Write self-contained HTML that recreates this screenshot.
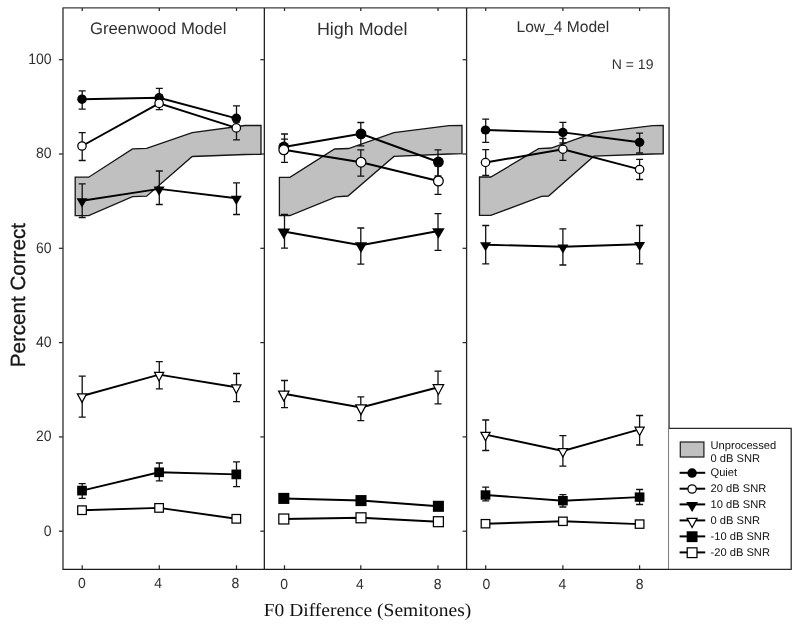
<!DOCTYPE html>
<html lang="en"><head><meta charset="utf-8"><title>F0 Difference - Percent Correct</title>
<style>html,body{margin:0;padding:0;background:#fff}body{width:800px;height:627px;overflow:hidden}svg{display:block}.tb{filter:blur(0.4px)}text{text-rendering:geometricPrecision;font-family:"Liberation Sans",Arial,Helvetica,sans-serif;fill:#303030}.lg text{fill:#111}.ser{font-family:"Liberation Serif","Times New Roman",serif;fill:#111}</style></head><body>
<svg width="800" height="627" viewBox="0 0 800 627">
<rect x="0" y="0" width="800" height="627" fill="#fff"/>
<polygon points="75.2,177.2 88.7,177.2 132.5,148.9 146.6,148.4 192.2,132.7 245.0,125.5 261.0,125.5 261.0,154.3 245.0,154.5 192.2,156.5 146.6,196.2 132.5,196.7 88.7,215.6 75.2,215.6" fill="#c0c0c0" stroke="#151515" stroke-width="1.3"/>
<polygon points="279.4,177.3 289.9,177.3 334.6,149.0 348.6,148.5 393.9,132.7 449.0,125.6 462.0,125.4 462.0,153.7 449.0,154.0 393.9,156.4 348.0,196.0 336.0,196.8 289.9,215.5 279.4,215.5" fill="#c0c0c0" stroke="#151515" stroke-width="1.3"/>
<polygon points="479.5,177.0 490.8,177.0 538.6,148.7 551.1,148.0 593.6,132.9 652.6,125.6 663.2,125.4 663.2,153.9 652.0,154.0 593.8,156.2 548.6,196.0 541.6,196.3 490.8,215.4 479.5,215.4" fill="#c0c0c0" stroke="#151515" stroke-width="1.3"/>
<g fill="none">
<path d="M62.4 7.9H669.9" stroke="#3c3c3c" stroke-width="1.4"/>
<path d="M62.4 569.3H669.3" stroke="#1c1c1c" stroke-width="1.3"/>
<path d="M63.0 7.9V569.3M669.05 7.9V569.3" stroke="#444" stroke-width="1.45"/>
<path d="M264.35 7.9V569.3M466.6 7.9V569.3" stroke="#222" stroke-width="1.3"/>
</g>
<g stroke="#2a2a2a" stroke-width="1.25" fill="none">
<path d="M58.9 531.2H63.0"/>
<path d="M58.9 436.9H63.0"/>
<path d="M58.9 342.6H63.0"/>
<path d="M58.9 248.3H63.0"/>
<path d="M58.9 154.0H63.0"/>
<path d="M58.9 59.7H63.0"/>
<path d="M260.3 531.2H264.4"/>
<path d="M260.3 436.9H264.4"/>
<path d="M260.3 342.6H264.4"/>
<path d="M260.3 248.3H264.4"/>
<path d="M260.3 154.0H264.4"/>
<path d="M260.3 59.7H264.4"/>
<path d="M462.6 531.2H466.7"/>
<path d="M462.6 436.9H466.7"/>
<path d="M462.6 342.6H466.7"/>
<path d="M462.6 248.3H466.7"/>
<path d="M462.6 154.0H466.7"/>
<path d="M462.6 59.7H466.7"/>
</g>
<g stroke="#2a2a2a" stroke-width="1.25" fill="none">
<path d="M82.2 7.9v3M82.2 569.3v-4"/>
<path d="M159.3 7.9v3M159.3 569.3v-4"/>
<path d="M236.5 7.9v3M236.5 569.3v-4"/>
<path d="M284.5 7.9v3M284.5 569.3v-4"/>
<path d="M360.8 7.9v3M360.8 569.3v-4"/>
<path d="M438.0 7.9v3M438.0 569.3v-4"/>
<path d="M485.7 7.9v3M485.7 569.3v-4"/>
<path d="M562.9 7.9v3M562.9 569.3v-4"/>
<path d="M639.6 7.9v3M639.6 569.3v-4"/>
</g>
<g>
<path d="M82.2 90.8V109.2M78.7 90.8h7M78.7 109.2h7M159.3 88.4V106M155.8 88.4h7M155.8 106h7M236.5 105.9V127.5M233.0 105.9h7M233.0 127.5h7" stroke="#111" stroke-width="1.3" fill="none"/>
<polyline points="82.0,99.2 159.1,97.8 236.3,118.3" fill="none" stroke="#000" stroke-width="1.9"/>
<ellipse cx="82.0" cy="99.2" rx="4.75" ry="4.75" fill="#000"/>
<ellipse cx="159.1" cy="97.8" rx="4.75" ry="4.75" fill="#000"/>
<ellipse cx="236.3" cy="118.3" rx="4.75" ry="4.75" fill="#000"/>
</g>
<g>
<path d="M82.2 132.6V160.5M78.7 132.6h7M78.7 160.5h7M159.3 95V109.6M155.8 95h7M155.8 109.6h7M236.5 122V139.9M233.0 122h7M233.0 139.9h7" stroke="#111" stroke-width="1.3" fill="none"/>
<polyline points="82.0,146.0 159.1,103.4 236.3,127.9" fill="none" stroke="#000" stroke-width="1.9"/>
<ellipse cx="82.0" cy="146.0" rx="4.20" ry="4.20" fill="#fff" stroke="#000" stroke-width="1.25"/>
<ellipse cx="159.1" cy="103.4" rx="4.20" ry="4.20" fill="#fff" stroke="#000" stroke-width="1.25"/>
<ellipse cx="236.3" cy="127.9" rx="4.20" ry="4.20" fill="#fff" stroke="#000" stroke-width="1.25"/>
</g>
<g>
<path d="M82.2 183.8V217.5M78.7 183.8h7M78.7 217.5h7M159.3 171V204.5M155.8 171h7M155.8 204.5h7M236.5 182.9V214.5M233.0 182.9h7M233.0 214.5h7" stroke="#111" stroke-width="1.3" fill="none"/>
<polyline points="82.0,200.7 159.1,188.9 236.3,198.2" fill="none" stroke="#000" stroke-width="1.9"/>
<path d="M76.50 198.20H87.50L82.0 207.50Z" fill="#000"/>
<path d="M153.60 186.40H164.60L159.1 195.70Z" fill="#000"/>
<path d="M230.80 195.70H241.80L236.3 205.00Z" fill="#000"/>
</g>
<g>
<path d="M82.2 376.1V417.2M78.7 376.1h7M78.7 417.2h7M159.3 361.7V388.8M155.8 361.7h7M155.8 388.8h7M236.5 373.5V401.6M233.0 373.5h7M233.0 401.6h7" stroke="#111" stroke-width="1.3" fill="none"/>
<polyline points="82.0,396.0 159.1,374.6 236.3,387.2" fill="none" stroke="#000" stroke-width="1.9"/>
<path d="M77.42 393.75H86.58L82.0 402.33Z" fill="#fff" stroke="#000" stroke-width="1.25" stroke-linejoin="miter"/>
<path d="M154.52 372.35H163.68L159.1 380.93Z" fill="#fff" stroke="#000" stroke-width="1.25" stroke-linejoin="miter"/>
<path d="M231.72 384.95H240.88L236.3 393.53Z" fill="#fff" stroke="#000" stroke-width="1.25" stroke-linejoin="miter"/>
</g>
<g>
<path d="M82.2 483.6V498.3M78.7 483.6h7M78.7 498.3h7M159.3 463V480.9M155.8 463h7M155.8 480.9h7M236.5 461.9V486.7M233.0 461.9h7M233.0 486.7h7" stroke="#111" stroke-width="1.3" fill="none"/>
<polyline points="82.0,490.6 159.1,472.3 236.3,474.4" fill="none" stroke="#000" stroke-width="1.9"/>
<rect x="77.15" y="485.75" width="9.70" height="9.70" fill="#000"/>
<rect x="154.25" y="467.45" width="9.70" height="9.70" fill="#000"/>
<rect x="231.45" y="469.55" width="9.70" height="9.70" fill="#000"/>
</g>
<g>
<path d="M82.2 508V512M78.7 508h7M78.7 512h7M159.3 506V510M155.8 506h7M155.8 510h7M236.5 517V521M233.0 517h7M233.0 521h7" stroke="#111" stroke-width="1.3" fill="none"/>
<polyline points="82.0,510.2 159.1,507.9 236.3,518.8" fill="none" stroke="#000" stroke-width="1.9"/>
<rect x="77.70" y="505.90" width="8.60" height="8.60" fill="#fff" stroke="#000" stroke-width="1.25"/>
<rect x="154.80" y="503.60" width="8.60" height="8.60" fill="#fff" stroke="#000" stroke-width="1.25"/>
<rect x="232.00" y="514.50" width="8.60" height="8.60" fill="#fff" stroke="#000" stroke-width="1.25"/>
</g>
<g>
<path d="M284.5 134.0V153M281.0 134.0h7M281.0 153h7M360.8 122.5V145.9M357.3 122.5h7M357.3 145.9h7M438.0 149.8V176M434.5 149.8h7M434.5 176h7" stroke="#111" stroke-width="1.3" fill="none"/>
<polyline points="283.8,147.0 361.0,133.8 438.4,162.0" fill="none" stroke="#000" stroke-width="2.0"/>
<ellipse cx="283.8" cy="147.0" rx="5.41" ry="5.41" fill="#000"/>
<ellipse cx="361.0" cy="133.8" rx="5.41" ry="5.41" fill="#000"/>
<ellipse cx="438.4" cy="162.0" rx="5.41" ry="5.41" fill="#000"/>
</g>
<g>
<path d="M284.5 139.1V162.4M281.0 139.1h7M281.0 162.4h7M360.8 149.8V176.2M357.3 149.8h7M357.3 176.2h7M438.0 166V194.3M434.5 166h7M434.5 194.3h7" stroke="#111" stroke-width="1.3" fill="none"/>
<polyline points="283.8,149.8 361.0,162.2 438.4,181.0" fill="none" stroke="#000" stroke-width="2.0"/>
<ellipse cx="283.8" cy="149.8" rx="4.86" ry="4.86" fill="#fff" stroke="#000" stroke-width="1.25"/>
<ellipse cx="361.0" cy="162.2" rx="4.86" ry="4.86" fill="#fff" stroke="#000" stroke-width="1.25"/>
<ellipse cx="438.4" cy="181.0" rx="4.86" ry="4.86" fill="#fff" stroke="#000" stroke-width="1.25"/>
</g>
<g>
<path d="M284.5 214.3V248.1M281.0 214.3h7M281.0 248.1h7M360.8 228V264.2M357.3 228h7M357.3 264.2h7M438.0 213.6V250.4M434.5 213.6h7M434.5 250.4h7" stroke="#111" stroke-width="1.3" fill="none"/>
<polyline points="283.8,231.4 361.0,245.2 438.4,231.0" fill="none" stroke="#000" stroke-width="2.0"/>
<path d="M277.53 228.55H290.07L283.8 239.15Z" fill="#000"/>
<path d="M354.73 242.35H367.27L361.0 252.95Z" fill="#000"/>
<path d="M432.13 228.15H444.67L438.4 238.75Z" fill="#000"/>
</g>
<g>
<path d="M284.5 380.5V407.7M281.0 380.5h7M281.0 407.7h7M360.8 396.9V420.6M357.3 396.9h7M357.3 420.6h7M438.0 371.2V403.8M434.5 371.2h7M434.5 403.8h7" stroke="#111" stroke-width="1.3" fill="none"/>
<polyline points="283.8,393.7 361.0,407.4 438.4,387.3" fill="none" stroke="#000" stroke-width="2.0"/>
<path d="M278.58 391.13H289.02L283.8 400.92Z" fill="#fff" stroke="#000" stroke-width="1.25" stroke-linejoin="miter"/>
<path d="M355.78 404.83H366.22L361.0 414.62Z" fill="#fff" stroke="#000" stroke-width="1.25" stroke-linejoin="miter"/>
<path d="M433.18 384.74H443.62L438.4 394.52Z" fill="#fff" stroke="#000" stroke-width="1.25" stroke-linejoin="miter"/>
</g>
<g>
<path d="M284.5 496V501M281.0 496h7M281.0 501h7M360.8 498V503M357.3 498h7M357.3 503h7M438.0 503V509M434.5 503h7M434.5 509h7" stroke="#111" stroke-width="1.3" fill="none"/>
<polyline points="283.8,498.4 361.0,500.6 438.4,506.3" fill="none" stroke="#000" stroke-width="2.0"/>
<rect x="278.27" y="492.87" width="11.06" height="11.06" fill="#000"/>
<rect x="355.47" y="495.07" width="11.06" height="11.06" fill="#000"/>
<rect x="432.87" y="500.77" width="11.06" height="11.06" fill="#000"/>
</g>
<g>
<path d="M284.5 517V521M281.0 517h7M281.0 521h7M360.8 516V520M357.3 516h7M357.3 520h7M438.0 520V524M434.5 520h7M434.5 524h7" stroke="#111" stroke-width="1.3" fill="none"/>
<polyline points="283.8,519.0 361.0,517.8 438.4,521.7" fill="none" stroke="#000" stroke-width="2.0"/>
<rect x="278.82" y="514.02" width="9.96" height="9.96" fill="#fff" stroke="#000" stroke-width="1.25"/>
<rect x="356.02" y="512.82" width="9.96" height="9.96" fill="#fff" stroke="#000" stroke-width="1.25"/>
<rect x="433.42" y="516.72" width="9.96" height="9.96" fill="#fff" stroke="#000" stroke-width="1.25"/>
</g>
<g>
<path d="M485.7 119.2V142.4M482.2 119.2h7M482.2 142.4h7M562.9 122.3V143M559.4 122.3h7M559.4 143h7M639.6 133.1V153.0M636.1 133.1h7M636.1 153.0h7" stroke="#111" stroke-width="1.3" fill="none"/>
<polyline points="485.5,130.0 562.9,132.4 639.6,142.3" fill="none" stroke="#000" stroke-width="1.9"/>
<ellipse cx="485.5" cy="130.0" rx="4.75" ry="4.61" fill="#000"/>
<ellipse cx="562.9" cy="132.4" rx="4.75" ry="4.61" fill="#000"/>
<ellipse cx="639.6" cy="142.3" rx="4.75" ry="4.61" fill="#000"/>
</g>
<g>
<path d="M485.7 149.7V175.4M482.2 149.7h7M482.2 175.4h7M562.9 138.5V160.3M559.4 138.5h7M559.4 160.3h7M639.6 159.3V179.5M636.1 159.3h7M636.1 179.5h7" stroke="#111" stroke-width="1.3" fill="none"/>
<polyline points="485.5,162.5 562.9,149.3 639.6,169.4" fill="none" stroke="#000" stroke-width="1.9"/>
<ellipse cx="485.5" cy="162.5" rx="4.20" ry="4.06" fill="#fff" stroke="#000" stroke-width="1.25"/>
<ellipse cx="562.9" cy="149.3" rx="4.20" ry="4.06" fill="#fff" stroke="#000" stroke-width="1.25"/>
<ellipse cx="639.6" cy="169.4" rx="4.20" ry="4.06" fill="#fff" stroke="#000" stroke-width="1.25"/>
</g>
<g>
<path d="M485.7 225.5V263.8M482.2 225.5h7M482.2 263.8h7M562.9 228.8V265M559.4 228.8h7M559.4 265h7M639.6 225.5V263.8M636.1 225.5h7M636.1 263.8h7" stroke="#111" stroke-width="1.3" fill="none"/>
<polyline points="485.5,244.7 562.9,246.8 639.6,244.3" fill="none" stroke="#000" stroke-width="1.9"/>
<path d="M480.00 242.27H491.00L485.5 251.30Z" fill="#000"/>
<path d="M557.40 244.38H568.40L562.9 253.40Z" fill="#000"/>
<path d="M634.10 241.88H645.10L639.6 250.90Z" fill="#000"/>
</g>
<g>
<path d="M485.7 420V450.5M482.2 420h7M482.2 450.5h7M562.9 435.6V466.2M559.4 435.6h7M559.4 466.2h7M639.6 415.5V445M636.1 415.5h7M636.1 445h7" stroke="#111" stroke-width="1.3" fill="none"/>
<polyline points="485.5,434.6 562.9,450.9 639.6,429.4" fill="none" stroke="#000" stroke-width="1.9"/>
<path d="M480.92 432.42H490.08L485.5 440.74Z" fill="#fff" stroke="#000" stroke-width="1.25" stroke-linejoin="miter"/>
<path d="M558.32 448.72H567.48L562.9 457.04Z" fill="#fff" stroke="#000" stroke-width="1.25" stroke-linejoin="miter"/>
<path d="M635.02 427.22H644.18L639.6 435.54Z" fill="#fff" stroke="#000" stroke-width="1.25" stroke-linejoin="miter"/>
</g>
<g>
<path d="M485.7 487.1V500.8M482.2 487.1h7M482.2 500.8h7M562.9 494.6V507M559.4 494.6h7M559.4 507h7M639.6 489.5V504.5M636.1 489.5h7M636.1 504.5h7" stroke="#111" stroke-width="1.3" fill="none"/>
<polyline points="485.5,495.0 562.9,500.7 639.6,497.1" fill="none" stroke="#000" stroke-width="1.9"/>
<rect x="480.65" y="490.30" width="9.70" height="9.41" fill="#000"/>
<rect x="558.05" y="496.00" width="9.70" height="9.41" fill="#000"/>
<rect x="634.75" y="492.40" width="9.70" height="9.41" fill="#000"/>
</g>
<g>
<path d="M485.7 522V526M482.2 522h7M482.2 526h7M562.9 520V523M559.4 520h7M559.4 523h7M639.6 522V526M636.1 522h7M636.1 526h7" stroke="#111" stroke-width="1.3" fill="none"/>
<polyline points="485.5,523.7 562.9,521.3 639.6,524.1" fill="none" stroke="#000" stroke-width="1.9"/>
<rect x="481.20" y="519.55" width="8.60" height="8.31" fill="#fff" stroke="#000" stroke-width="1.25"/>
<rect x="558.60" y="517.15" width="8.60" height="8.31" fill="#fff" stroke="#000" stroke-width="1.25"/>
<rect x="635.30" y="519.95" width="8.60" height="8.31" fill="#fff" stroke="#000" stroke-width="1.25"/>
</g>
<g class="tb">
<text transform="translate(51.5,535.5) scale(1,1.08)" font-size="14" text-anchor="end">0</text>
<text transform="translate(51.5,441.2) scale(1,1.08)" font-size="14" text-anchor="end">20</text>
<text transform="translate(51.5,346.9) scale(1,1.08)" font-size="14" text-anchor="end">40</text>
<text transform="translate(51.5,252.6) scale(1,1.08)" font-size="14" text-anchor="end">60</text>
<text transform="translate(51.5,158.3) scale(1,1.08)" font-size="14" text-anchor="end">80</text>
<text transform="translate(51.5,64.0) scale(1,1.08)" font-size="14" text-anchor="end">100</text>
<text transform="translate(81.9,587.8) scale(1,1.04)" font-size="14" text-anchor="middle">0</text>
<text transform="translate(158.2,587.8) scale(1,1.04)" font-size="14" text-anchor="middle">4</text>
<text transform="translate(235.5,587.8) scale(1,1.04)" font-size="14" text-anchor="middle">8</text>
<text transform="translate(284.1,588.9) scale(1,1.04)" font-size="14" text-anchor="middle">0</text>
<text transform="translate(360.0,588.9) scale(1,1.04)" font-size="14" text-anchor="middle">4</text>
<text transform="translate(437.6,588.9) scale(1,1.04)" font-size="14" text-anchor="middle">8</text>
<text transform="translate(486.4,588.7) scale(1,1.04)" font-size="14" text-anchor="middle">0</text>
<text transform="translate(562.3,588.7) scale(1,1.04)" font-size="14" text-anchor="middle">4</text>
<text transform="translate(639.7,588.7) scale(1,1.04)" font-size="14" text-anchor="middle">8</text>
<text x="90.0" y="33.6" font-size="16.7">Greenwood Model</text>
<text x="316.9" y="34.8" font-size="17.9">High Model</text>
<text x="516.5" y="31.7" font-size="15.6">Low_4 Model</text>
<text x="611.8" y="68.6" font-size="14">N = 19</text>
<text class="ser" transform="translate(263.7,615.8) scale(1,0.95)" font-size="19.5">F0 Difference (Semitones)</text>
<text transform="translate(25.4,367.3) rotate(-90)" font-size="20.6" style="fill:#151515;stroke:#151515;stroke-width:0.3px">Percent Correct</text>
</g>
<path d="M669.05 428.3H791.2V569.3H669.05" fill="#fff" stroke="#2a2a2a" stroke-width="1.3"/>
<rect x="680.3" y="442.0" width="23.6" height="15.0" fill="#c0c0c0" stroke="#222" stroke-width="1.25"/>
<g class="lg tb" font-size="11.15">
<text x="710.5" y="448.9">Unprocessed</text>
<text x="710.5" y="461.9">0 dB SNR</text>
<path d="M679.6 472.8H705.2" stroke="#000" stroke-width="2"/>
<ellipse cx="692.1" cy="473.1" rx="4.75" ry="4.75" fill="#000"/>
<text x="710.5" y="476.3">Quiet</text>
<path d="M679.6 488.7H705.2" stroke="#000" stroke-width="2"/>
<ellipse cx="692.1" cy="489.0" rx="4.20" ry="4.20" fill="#fff" stroke="#000" stroke-width="1.25"/>
<text x="710.5" y="492.2">20 dB SNR</text>
<path d="M679.6 504.4H705.2" stroke="#000" stroke-width="2"/>
<path d="M686.16 502.00H698.04L692.1 512.04Z" fill="#000"/>
<text x="710.5" y="507.9">10 dB SNR</text>
<path d="M679.6 520.4H705.2" stroke="#000" stroke-width="2"/>
<path d="M687.15 518.27H697.05L692.1 527.54Z" fill="#fff" stroke="#000" stroke-width="1.25" stroke-linejoin="miter"/>
<text x="710.5" y="523.9">0 dB SNR</text>
<path d="M679.6 536.4H705.2" stroke="#000" stroke-width="2"/>
<rect x="686.67" y="531.27" width="10.86" height="10.86" fill="#000"/>
<text x="710.5" y="539.9">-10 dB SNR</text>
<path d="M679.6 552.4H705.2" stroke="#000" stroke-width="2"/>
<rect x="687.22" y="547.82" width="9.76" height="9.76" fill="#fff" stroke="#000" stroke-width="1.25"/>
<text x="710.5" y="555.9">-20 dB SNR</text>
</g>
</svg></body></html>
